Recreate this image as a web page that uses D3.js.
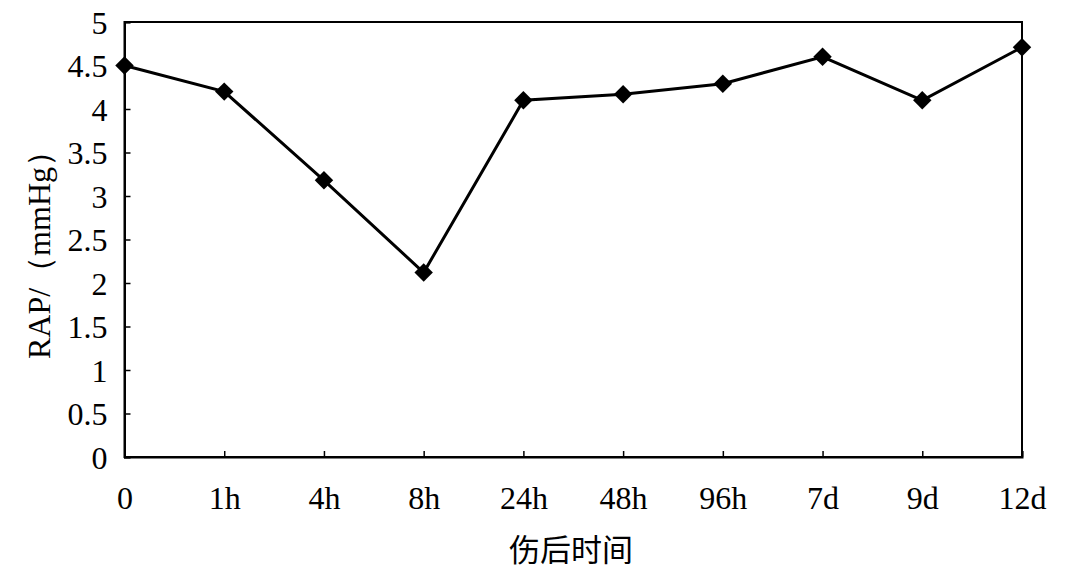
<!DOCTYPE html>
<meta charset="utf-8">
<body style="margin:0;background:#fff">
<svg id="chart"></svg>
<script src="https://d3js.org/d3.v7.min.js"></script>
<script>
// time points after injury and RAP readings (mmHg)
var categories = ["0", "1h", "4h", "8h", "24h", "48h", "96h", "7d", "9d", "12d"];
var rapValues = [4.5, 4.2, 3.18, 2.12, 4.1, 4.17, 4.29, 4.6, 4.1, 4.71];
var yTicks = [0, 0.5, 1, 1.5, 2, 2.5, 3, 3.5, 4, 4.5, 5];

var width = 1065, height = 581;
var margin = {left: 124.5, right: 43, top: 22, bottom: 124};

var svg = d3.select("#chart")
	.attr("width", width)
	.attr("height", height);

var x = d3.scalePoint()
	.domain(categories)
	.range([margin.left, width - margin.right]);

var y = d3.scaleLinear()
	.domain([0, 5])
	.range([height - margin.bottom, margin.top]);

var serif = "'Liberation Serif', 'Times New Roman', serif";

// plot frame
svg.append("rect")
	.attr("x", margin.left)
	.attr("y", margin.top)
	.attr("width", width - margin.right - margin.left)
	.attr("height", height - margin.bottom - margin.top)
	.attr("fill", "none")
	.attr("stroke", "#000")
	.attr("stroke-width", 2);

// y axis, ticks pointing inward
var yAxis = svg.append("g")
	.attr("transform", "translate(" + margin.left + ",0)")
	.call(d3.axisRight(y).tickValues(yTicks).tickSize(6).tickFormat(d3.format("")));
yAxis.select(".domain").attr("stroke-width", 2);
yAxis.selectAll(".tick line").attr("stroke-width", 1.5);
yAxis.selectAll(".tick text")
	.attr("x", -17)
	.attr("text-anchor", "end")
	.attr("dy", "0.35em")
	.style("font-family", serif)
	.style("font-size", "32px")
	.attr("fill", "#000");

// x axis, ticks pointing up
var xAxis = svg.append("g")
	.attr("transform", "translate(0," + (height - margin.bottom) + ")")
	.call(d3.axisTop(x).tickSize(6));
xAxis.select(".domain").attr("stroke-width", 2);
xAxis.selectAll(".tick line").attr("stroke-width", 1.5);
xAxis.selectAll(".tick text")
	.attr("y", 41)
	.attr("dy", "0.35em")
	.style("font-family", serif)
	.style("font-size", "32px")
	.attr("fill", "#000");

// series line
var line = d3.line()
	.x(function(d, i) { return x(categories[i]); })
	.y(function(d) { return y(d); });

svg.append("path")
	.datum(rapValues)
	.attr("d", line)
	.attr("fill", "none")
	.attr("stroke", "#000")
	.attr("stroke-width", 3);

// diamond markers
svg.append("g").selectAll("path")
	.data(rapValues)
	.enter().append("path")
	.attr("transform", function(d, i) { return "translate(" + x(categories[i]) + "," + y(d) + ") rotate(45)"; })
	.attr("d", d3.symbol().type(d3.symbolSquare).size(170)())
	.attr("fill", "#000");

// axis titles
svg.append("text")
	.attr("transform", "translate(50,247) rotate(-90)")
	.attr("text-anchor", "middle")
	.style("font-family", serif)
	.style("font-size", "32px")
	.text("RAP/（mmHg）");

svg.append("text")
	.attr("x", 571)
	.attr("y", 561)
	.attr("text-anchor", "middle")
	.style("font-family", "'Noto Sans CJK SC', sans-serif")
	.style("font-size", "31px")
	.text("伤后时间");
</script>
</body>
